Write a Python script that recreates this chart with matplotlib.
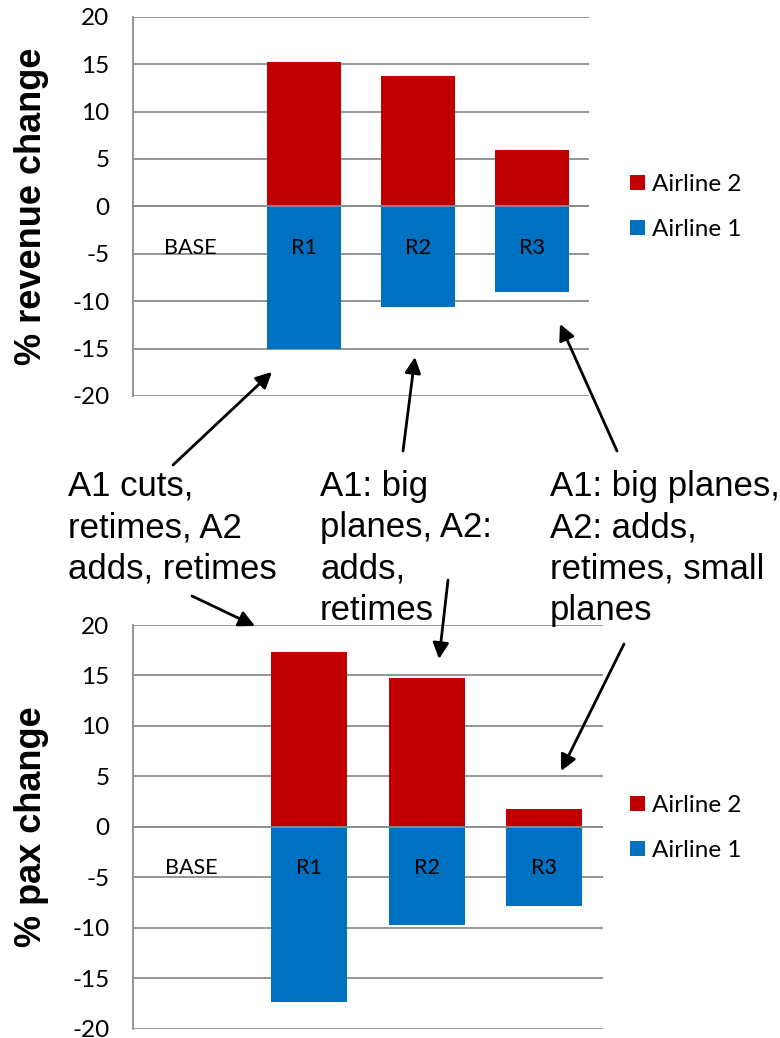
import matplotlib
matplotlib.use("Agg")
import matplotlib.pyplot as plt
import numpy as np

# data
scenarios = ["BASE", "R1", "R2", "R3"]
rev_airline2 = [0.0, 15.2, 13.7, 5.9]
rev_airline1 = [0.0, -15.0, -10.6, -9.0]
pax_airline2 = [0.0, 17.3, 14.7, 1.8]
pax_airline1 = [0.0, -17.4, -9.7, -7.9]
yticks = [20, 15, 10, 5, 0, -5, -10, -15, -20]

notes = ["A1 cuts,\nretimes, A2\nadds, retimes",
         "A1: big\nplanes, A2:\nadds,\nretimes",
         "A1: big planes,\nA2: adds,\nretimes, small\nplanes"]

RED = "#C00000"
BLUE = "#0070C0"
GRID = "#8C8C8C"
TICKFONT = "Lato"
NOTEFONT = "Liberation Sans"

W, H = 780, 1038


def px_box(left, top, right, bottom):
    return [left / W, 1 - bottom / H, (right - left) / W, (bottom - top) / H]


def draw_panel(ax, up, down, ylabel, legend_xy):
    x = np.arange(len(scenarios))
    b2 = ax.bar(x, up, width=0.65, color=RED, zorder=2, label="Airline 2")
    b1 = ax.bar(x, down, width=0.65, color=BLUE, zorder=2, label="Airline 1")
    ax.set_xlim(-0.5, len(scenarios) - 0.5)
    ax.set_ylim(-20, 20)
    ax.set_yticks(yticks)
    ax.set_yticklabels([str(t) for t in yticks], fontfamily=TICKFONT,
                       fontsize=17.5)
    ax.yaxis.grid(True, color=GRID, lw=1.3, zorder=0)
    ax.set_axisbelow(True)
    ax.axhline(0, color=GRID, lw=1.3, zorder=3)
    ax.tick_params(axis="y", length=0, pad=17)
    ax.tick_params(axis="x", length=0, bottom=False, labelbottom=False)
    for s in ["top", "right", "bottom"]:
        ax.spines[s].set_visible(False)
    ax.spines["left"].set_color(GRID)
    ax.spines["left"].set_linewidth(1.3)
    # category names sit a fixed distance under the zero line
    for xi, name in zip(x, scenarios):
        ax.annotate(name, (xi, 0), xytext=(0, -30), textcoords="offset points",
                    ha="center", va="center", fontfamily=TICKFONT,
                    fontsize=15.5, zorder=4)
    ax.set_ylabel(ylabel, fontfamily=NOTEFONT, fontweight="bold", fontsize=26)
    ax.yaxis.set_label_coords(-84 / (ax.get_position().width * W), 0.5)
    ax.legend(handles=[b2, b1], loc="center left",
              bbox_to_anchor=(legend_xy[0] / W, 1 - legend_xy[1] / H),
              bbox_transform=ax.figure.transFigure, frameon=False,
              prop={"family": TICKFONT, "size": 17.5},
              handlelength=0.6, handleheight=0.6, handletextpad=0.3,
              labelspacing=1.0, borderpad=0)


fig = plt.figure(figsize=(W / 100, H / 100), dpi=100)
ax1 = fig.add_axes(px_box(133, 16.7, 589, 396))
ax2 = fig.add_axes(px_box(133, 625, 603, 1028.5))

draw_panel(ax1, rev_airline2, rev_airline1, "% revenue change", (618, 207))
draw_panel(ax2, pax_airline2, pax_airline1, "% pax change", (618, 828))

# note texts between the panels
for (nx, ny), txt in zip([(68, 470), (320, 470), (550, 470)], notes):
    fig.text(nx / W, 1 - ny / H, txt, ha="left", va="top",
             fontfamily=NOTEFONT, fontsize=25, linespacing=1.32)

# arrows: (tail, head) in pixels from top-left
arrows = [((173, 465), (272, 372)), ((403, 451), (415, 357)),
          ((617, 451), (560, 324)), ((192, 596), (255, 626)),
          ((448, 580), (439, 659)), ((624, 644), (561, 771))]
for (tx, ty), (hx, hy) in arrows:
    fig.add_artist(matplotlib.patches.FancyArrowPatch(
        (tx, H - ty), (hx, H - hy), transform=None,
        arrowstyle="-|>", mutation_scale=24, lw=2, color="black",
        shrinkA=0, shrinkB=0))

fig.savefig("out.png", dpi=100)
